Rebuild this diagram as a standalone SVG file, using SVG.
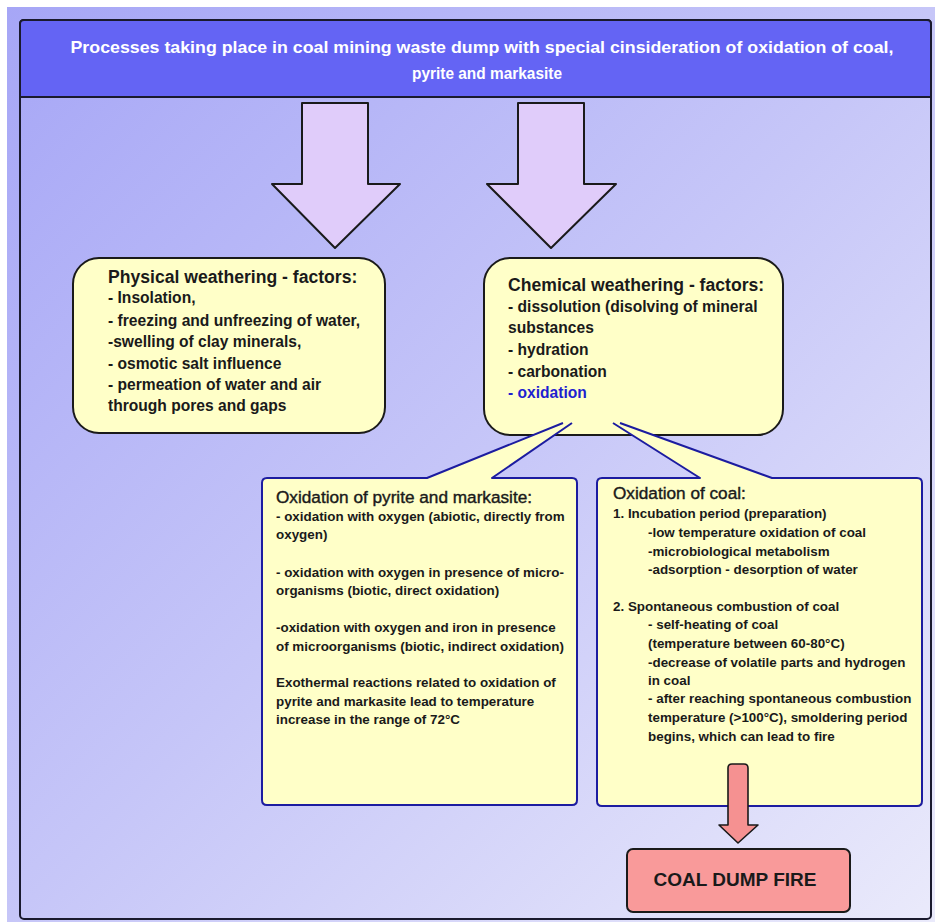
<svg xmlns="http://www.w3.org/2000/svg" width="935" height="922" viewBox="0 0 935 922">
<defs>
<linearGradient id="bg" x1="0" y1="0" x2="1" y2="1">
<stop offset="0" stop-color="#a6a6f6"/>
<stop offset="0.5" stop-color="#c6c6f8"/>
<stop offset="1" stop-color="#eaeafb"/>
</linearGradient>
<style>
text{font-family:"Liberation Sans",Arial,sans-serif;fill:#1a1a1a}
.hd{font-size:17.6px;font-weight:bold}
.bd{font-size:15.6px;font-weight:bold}
.ch{font-size:17.2px;stroke:#1a1a1a;stroke-width:0.4}
.cb{font-size:13.4px;font-weight:bold}
.ht{font-size:16.5px;font-weight:bold;fill:#ffffff}
.box{fill:#ffffc8;stroke:#1a1a1a;stroke-width:2}
.call{fill:#ffffc8;stroke:#1c1ca0;stroke-width:2;stroke-linejoin:round}
.bigarrow{fill:#e0ccfa;stroke:#1a1a1a;stroke-width:2;stroke-linejoin:round}
.redarrow{fill:#f59191;stroke:#1a1a1a;stroke-width:1.6;stroke-linejoin:round}
</style>
</defs>
<rect x="0" y="0" width="935" height="922" fill="#ffffff"/>
<rect x="7" y="7" width="928" height="915" fill="url(#bg)"/>
<g id="frame">
<rect x="20" y="20" width="911" height="899" rx="4" fill="none" stroke="#1a1a2e" stroke-width="2"/>
</g>
<g id="header">
<path d="M20,97 L20,24 Q20,20 24,20 L927,20 Q931,20 931,24 L931,97 Z" fill="#6464f4" stroke="#1a1a2e" stroke-width="2"/>
<text class="ht" x="482" y="53" text-anchor="middle" textLength="823" lengthAdjust="spacingAndGlyphs">Processes taking place in coal mining waste dump with special cinsideration of oxidation of coal,</text>
<text class="ht" x="487" y="79" text-anchor="middle" textLength="150" lengthAdjust="spacingAndGlyphs">pyrite and markasite</text>
</g>
<g id="connectors">
<path class="bigarrow" d="M302,103 L368,103 L368,184 L400,184 L335,248 L272,184 L302,184 Z"/>
<path class="bigarrow" d="M518,103 L584,103 L584,184 L616,184 L551,248 L487,184 L518,184 Z"/>
</g>
<g id="physical">
<rect class="box" x="73" y="258" width="312" height="175" rx="26"/>
<text class="hd" x="108" y="283">Physical weathering - factors:</text>
<text class="bd" x="108" y="303">- Insolation,</text>
<text class="bd" x="108" y="326">- freezing and unfreezing of water,</text>
<text class="bd" x="108" y="347">-swelling of clay minerals,</text>
<text class="bd" x="108" y="369">- osmotic salt influence</text>
<text class="bd" x="108" y="390">- permeation of water and air</text>
<text class="bd" x="108" y="411">through pores and gaps</text>
</g>
<g id="chemical">
<rect class="box" x="484" y="258" width="299" height="177" rx="26"/>
<text class="hd" x="508" y="291">Chemical weathering - factors:</text>
<text class="bd" x="508" y="312">- dissolution (disolving of mineral</text>
<text class="bd" x="508" y="333">substances</text>
<text class="bd" x="508" y="355">- hydration</text>
<text class="bd" x="508" y="377">- carbonation</text>
<text class="bd" x="508" y="398" style="fill:#1f1fd0">- oxidation</text>
</g>
<g id="pyrite">
<path class="call" d="M563,423 L427,478 L267,478 Q262,478 262,483 L262,800 Q262,805 267,805 L572,805 Q577,805 577,800 L577,483 Q577,478 572,478 L492,478 L572,423"/>
<text class="ch" x="276" y="503">Oxidation of pyrite and markasite:</text>
<text class="cb" x="276" y="521">- oxidation with oxygen (abiotic, directly from</text>
<text class="cb" x="276" y="539">oxygen)</text>
<text class="cb" x="276" y="577">- oxidation with oxygen in presence of micro-</text>
<text class="cb" x="276" y="595">organisms (biotic, direct oxidation)</text>
<text class="cb" x="276" y="632">-oxidation with oxygen and iron in presence</text>
<text class="cb" x="276" y="651">of microorganisms (biotic, indirect oxidation)</text>
<text class="cb" x="276" y="687">Exothermal reactions related to oxidation of</text>
<text class="cb" x="276" y="706">pyrite and markasite lead to temperature</text>
<text class="cb" x="276" y="724">increase in the range of 72°C</text>
</g>
<g id="coal">
<path class="call" d="M613,423 L700,478 L602,478 Q597,478 597,483 L597,801 Q597,806 602,806 L917,806 Q922,806 922,801 L922,483 Q922,478 917,478 L772,478 L620,423"/>
<text class="ch" x="613" y="499">Oxidation of coal:</text>
<text class="cb" x="613" y="518">1. Incubation period (preparation)</text>
<text class="cb" x="648" y="537">-low temperature oxidation of coal</text>
<text class="cb" x="648" y="556">-microbiological metabolism</text>
<text class="cb" x="648" y="574">-adsorption - desorption of water</text>
<text class="cb" x="613" y="611">2. Spontaneous combustion of coal</text>
<text class="cb" x="648" y="629">- self-heating of coal</text>
<text class="cb" x="648" y="648">(temperature between 60-80°C)</text>
<text class="cb" x="648" y="667">-decrease of volatile parts and hydrogen</text>
<text class="cb" x="648" y="685">in coal</text>
<text class="cb" x="648" y="703">- after reaching spontaneous combustion</text>
<text class="cb" x="648" y="722">temperature (&gt;100°C), smoldering period</text>
<text class="cb" x="648" y="741">begins, which can lead to fire</text>
</g>
<g id="connectors-fire">
<path class="redarrow" d="M728,768 Q728,764 732,764 L744,764 Q748,764 748,768 L748,825 L758,825 L738,843 L719,825 L728,825 Z"/>
</g>
<g id="fire">
<rect x="627" y="849" width="223" height="63" rx="6" fill="#f99a9a" stroke="#1a1a1a" stroke-width="2"/>
<text x="735" y="886" text-anchor="middle" style="font-size:19px;font-weight:bold;fill:#1a1a1a">COAL DUMP FIRE</text>
</g>
</svg>
